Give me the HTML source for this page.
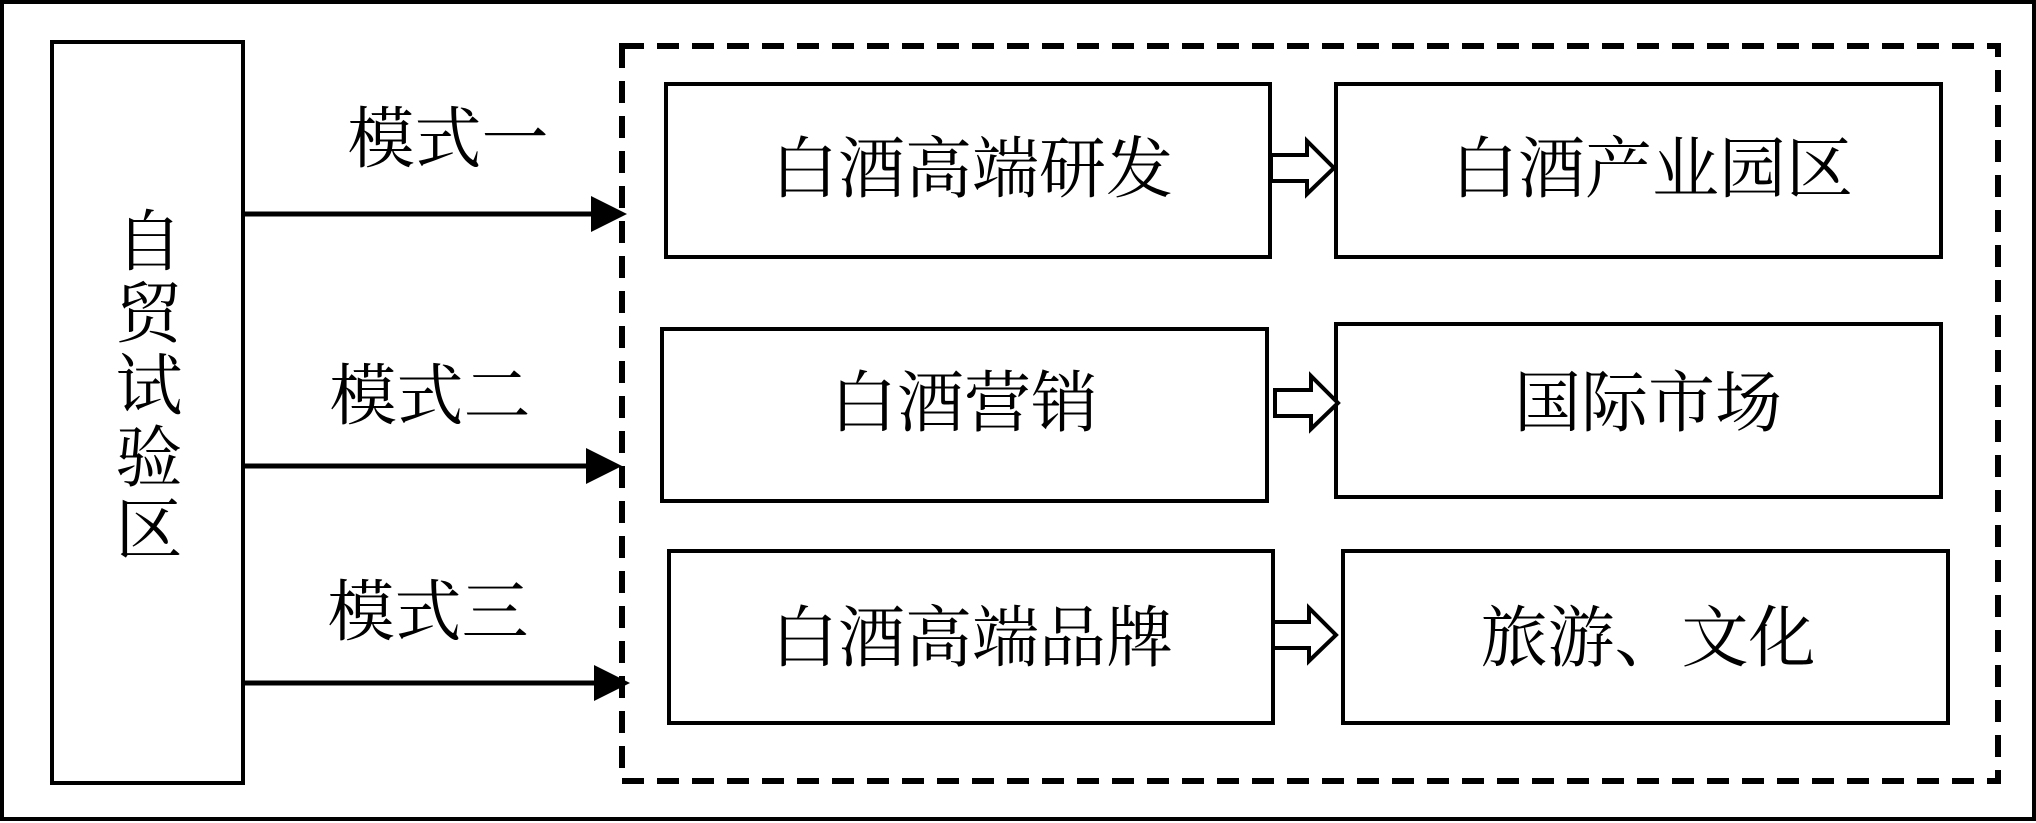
<!DOCTYPE html>
<html><head><meta charset="utf-8"><style>
html,body{margin:0;padding:0;background:#fff;}
svg{display:block;}
text{font-family:"Liberation Serif","Noto Serif CJK SC",serif;font-size:67px;fill:#000;}
</style></head><body>
<svg width="2036" height="823" viewBox="0 0 2036 823" xmlns="http://www.w3.org/2000/svg">
<rect x="2" y="2" width="2032" height="817" fill="#fff" stroke="#000" stroke-width="4"/>
<rect x="52" y="42" width="191" height="741" fill="none" stroke="#000" stroke-width="4"/>
<g text-anchor="middle">
<text x="149" y="265">自</text>
<text x="149" y="337">贸</text>
<text x="149" y="409">试</text>
<text x="149" y="481">验</text>
<text x="149" y="553">区</text>
</g>
<rect x="622" y="46" width="1376" height="735" fill="none" stroke="#000" stroke-width="6" stroke-dasharray="22,13"/>
<g stroke="#000" stroke-width="4" fill="none">
<rect x="666" y="84" width="604" height="173"/>
<rect x="662" y="329" width="605" height="172"/>
<rect x="669" y="551" width="604" height="172"/>
<rect x="1336" y="84" width="605" height="173"/>
<rect x="1336" y="324" width="605" height="173"/>
<rect x="1343" y="551" width="605" height="172"/>
</g>
<g stroke="#000" stroke-width="5">
<line x1="243" y1="214" x2="595" y2="214"/>
<line x1="243" y1="466" x2="590" y2="466"/>
<line x1="243" y1="683" x2="598" y2="683"/>
</g>
<g fill="#000">
<polygon points="591,196 627,214 591,232"/>
<polygon points="586,448 622,466 586,484"/>
<polygon points="594,665 630,683 594,701"/>
</g>
<g fill="#fff" stroke="#000" stroke-width="4">
<polygon points="1271,155 1307,155 1307,141 1334,168 1307,194 1307,181 1271,181"/>
<polygon points="1275,390 1311,390 1311,376 1338,403 1311,429 1311,416 1275,416"/>
<polygon points="1273,622 1309,622 1309,608 1336,635 1309,661 1309,648 1273,648"/>
</g>
<g text-anchor="middle">
<text x="448" y="162">模式一</text>
<text x="430" y="419">模式二</text>
<text x="428" y="635">模式三</text>
<text x="972" y="192">白酒高端研发</text>
<text x="964" y="426">白酒营销</text>
<text x="972" y="661">白酒高端品牌</text>
<text x="1652" y="192">白酒产业园区</text>
<text x="1648" y="426">国际市场</text>
<text x="1648" y="661">旅游、文化</text>
</g>
</svg>
</body></html>
